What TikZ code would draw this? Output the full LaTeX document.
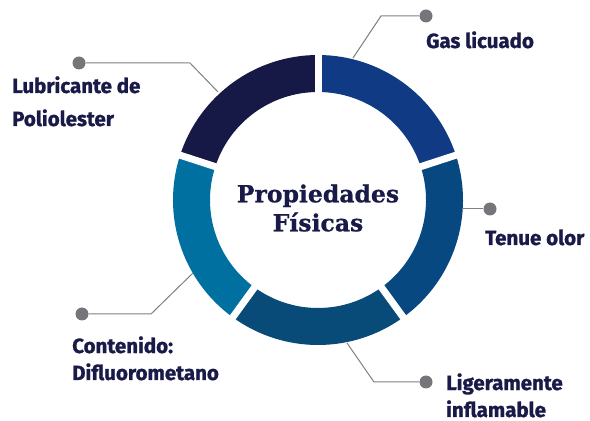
\documentclass[tikz,border=0pt]{standalone}
\usepackage{fontspec}
\setmainfont{Fira Sans}[BoldFeatures={FakeBold=1.2}]
\newfontfamily\slabfont{DejaVu Serif}[BoldFeatures={FakeBold=0.8}]
\usepackage{tikz}
\usetikzlibrary{positioning,calc}
\definecolor{navy}{RGB}{26,26,72}
\definecolor{segA}{RGB}{16,58,132}
\definecolor{segB}{RGB}{8,72,128}
\definecolor{segC}{RGB}{8,74,120}
\definecolor{segD}{RGB}{0,112,160}
\definecolor{segE}{RGB}{22,24,70}
\definecolor{dotgray}{RGB}{118,118,122}
\definecolor{linegray}{RGB}{128,128,128}

\begin{document}
\begin{tikzpicture}[
  x=1pt, y=1pt,
  tag/.style={anchor=base west, align=left, inner sep=0pt, text=navy, font=\fontsize{20.5}{27}\selectfont\bfseries},
  dot/.style={circle, fill=dotgray, minimum size=13pt, inner sep=0pt},
  lead/.style={draw=linegray, line width=1pt},
  title/.style={align=center, text=navy, font=\slabfont\fontsize{23.5}{29}\selectfont\bfseries}
]
\useasboundingbox (0,0) rectangle (590,421);

% Ring
\coordinate (ctr) at (318,221);
\foreach \a/\col in {18/segA, -54/segB, -126/segC, 162/segD, 90/segE}{
  \fill[\col] ($(ctr)+(\a:145)$) arc[start angle=\a, delta angle=72, radius=145]
    -- ($(ctr)+(\a+72:108)$) arc[start angle=\a+72, delta angle=-72, radius=108] -- cycle;
}
\foreach \a in {90,18,-54,-126,162}
  \draw[white, line width=7pt] ($(ctr)+(\a:104)$) -- ($(ctr)+(\a:149)$);

\node[title] (props) at (318,213) {Propiedades\\F\'isicas};

% Connector points
\coordinate (gasring) at (353,363);
\coordinate (gaselbow) at (381,405);
\coordinate (lubring) at (218,329);
\coordinate (lubelbow) at (190,358);
\coordinate (tenring) at (462,212);
\coordinate (ligring) at (347,78);
\coordinate (ligelbow) at (374,39);
\coordinate (conring) at (193,148);
\coordinate (conelbow) at (151,107);

% Dots
\node[dot] (gasdot) at (426,405) {};
\node[dot] (lubdot) at (79,358) {};
\node[dot] (tendot) at (490,212) {};
\node[dot] (ligdot) at (426,39) {};
\node[dot] (condot) at (82,107) {};

\draw[lead] (gasring) -- (gaselbow) -- (gasdot);
\draw[lead] (lubring) -- (lubelbow) -- (lubdot);
\draw[lead] (tenring) -- (tendot);
\draw[lead] (ligring) -- (ligelbow) -- (ligdot);
\draw[lead] (conring) -- (conelbow) -- (condot);

% Labels (base = last line)
\node[tag] (gas) at (426,373) {Gas licuado};
\node[tag] (lub) at (12,295) {Lubricante de\\[6pt]Poliolester};
\node[tag] (ten) at (485,176) {Tenue olor};
\node[tag] (lig) at (446,4) {Ligeramente\\inflamable};
\node[tag] (con) at (72,41) {Contenido:\\Difluorometano};

\end{tikzpicture}
\end{document}
